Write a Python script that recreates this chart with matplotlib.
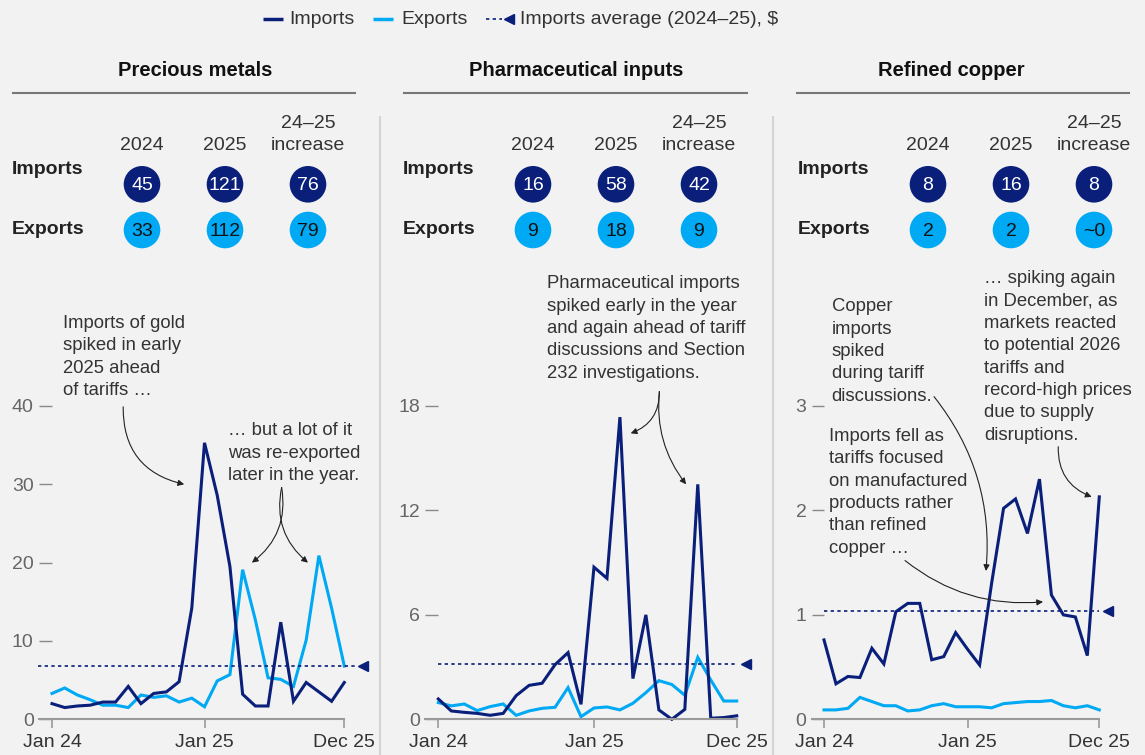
import matplotlib
matplotlib.use("Agg")
import matplotlib.pyplot as plt
import numpy as np
from matplotlib.patches import Circle

plt.rcParams["font.family"] = ["Liberation Sans", "DejaVu Sans"]

W, H = 1145, 755
BG = "#f2f2f2"
DARK = "#0a1f7a"
LIGHT = "#00a9f4"
TEXT = "#333333"
GRAY = "#777777"

# ---- data -----------------------------------------------------------------
months = np.arange(24)
month_ticks = [0, 12, 23]
month_labels = ["Jan 24", "Jan 25", "Dec 25"]

titles = ["Precious metals", "Pharmaceutical inputs", "Refined copper"]
header_cols = ["2024", "2025", "24–25\nincrease"]
imports_totals = [["45", "121", "76"], ["16", "58", "42"], ["8", "16", "8"]]
exports_totals = [["33", "112", "79"], ["9", "18", "9"], ["2", "2", "~0"]]

metals_imports = [2.0, 1.5, 1.7, 1.8, 2.2, 2.2, 4.2, 2.0, 3.3, 3.5, 4.8, 14.2,
                  35.3, 28.6, 19.5, 3.2, 1.7, 1.7, 12.4, 2.3, 4.7, 3.5, 2.3, 4.7]
metals_exports = [3.3, 4.0, 3.1, 2.5, 1.8, 1.8, 1.5, 3.1, 2.8, 3.0, 2.2, 2.7,
                  1.6, 4.9, 5.7, 19.1, 12.7, 5.3, 5.1, 4.2, 10.1, 20.9, 14.2, 6.8]
pharma_imports = [1.17, 0.48, 0.40, 0.34, 0.23, 0.34, 1.36, 1.95, 2.07, 3.14, 3.83, 0.86,
                  8.74, 8.1, 17.36, 2.34, 6.0, 0.54, 0.0, 0.57, 13.5, 0.06, 0.1, 0.2]
pharma_exports = [0.96, 0.77, 0.88, 0.5, 0.73, 0.88, 0.23, 0.48, 0.63, 0.69, 1.82, 0.15,
                  0.65, 0.71, 0.54, 0.92, 1.53, 2.22, 2.0, 1.38, 3.56, 2.26, 1.05, 1.05]
copper_imports = [0.76, 0.34, 0.41, 0.40, 0.68, 0.53, 1.03, 1.11, 1.11, 0.57, 0.60, 0.83,
                  0.67, 0.52, 1.3, 2.02, 2.11, 1.78, 2.30, 1.19, 1.0, 0.98, 0.61, 2.13]
copper_exports = [0.09, 0.09, 0.105, 0.21, 0.17, 0.13, 0.13, 0.08, 0.09, 0.13, 0.15, 0.12,
                  0.12, 0.12, 0.11, 0.15, 0.16, 0.17, 0.17, 0.18, 0.13, 0.11, 0.13, 0.09]
imports_avg = [6.8, 3.2, 1.04]
y_ticks = [[0, 10, 20, 30, 40], [0, 6, 12, 18], [0, 1, 2, 3]]

series = [(metals_imports, metals_exports),
          (pharma_imports, pharma_exports),
          (copper_imports, copper_exports)]

# ---- annotations (text anchored top-left, in data coords of each panel) ---
notes = [
    [dict(text="Imports of gold\nspiked in early\n2025 ahead\nof tariffs …", xy=(0.87, 51.6)),
     dict(text="… but a lot of it\nwas re-exported\nlater in the year.", xy=(13.85, 37.9))],
    [dict(text="Pharmaceutical imports\nspiked early in the year\nand again ahead of tariff\n"
               "discussions and Section\n232 investigations.", xy=(8.4, 25.5))],
    [dict(text="Copper\nimports\nspiked\nduring tariff\ndiscussions.", xy=(0.64, 4.03)),
     dict(text="Imports fell as\ntariffs focused\non manufactured\nproducts rather\n"
               "than refined\ncopper …", xy=(0.45, 2.79)),
     dict(text="… spiking again\nin December, as\nmarkets reacted\nto potential 2026\n"
               "tariffs and\nrecord-high prices\ndue to supply\ndisruptions.", xy=(13.37, 4.30))],
]
arrows = [
    [((5.6, 39.9), (10.4, 30.0), 0.4),
     ((18.07, 29.6), (15.73, 20.0), -0.3),
     ((18.07, 29.6), (20.14, 20.0), 0.3)],
    [((17.04, 18.83), (14.83, 16.43), -0.35),
     ((17.04, 18.83), (19.1, 13.5), 0.2)],
    [((9.19, 3.09), (13.53, 1.42), -0.2),
     ((6.77, 1.52), (18.3, 1.125), 0.2),
     ((19.57, 2.61), (22.36, 2.13), 0.35)],
]

# ---- layout (pixels) -------------------------------------------------------
jan24_px = [52.0, 438.3, 824.0]
dec25_px = [344.3, 736.7, 1099.3]
panel_left = [12, 403, 798]
panel_center = [195, 576, 951]
underline = [(13, 355), (404, 747), (797, 1129)]
avg_span = [(-1.07, 24.1, 24.5), (0, 23, 23.7), (0, 23, 23.7)]
col_dx = [130, 213, 296]
bottom_px, top_px = 719.3, 406.0

fig = plt.figure(figsize=(W / 100, H / 100), dpi=100)
fig.patch.set_facecolor(BG)

canvas = fig.add_axes([0, 0, 1, 1])
canvas.set_xlim(0, W)
canvas.set_ylim(H, 0)
canvas.axis("off")
canvas.patch.set_alpha(0)

# legend
canvas.plot([263, 283], [19, 19], color=DARK, lw=2.5, solid_capstyle="butt")
canvas.text(289, 19, "Imports", fontsize=14, color=TEXT, va="center")
canvas.plot([373, 393], [19, 19], color=LIGHT, lw=2.5, solid_capstyle="butt")
canvas.text(401, 19, "Exports", fontsize=14, color=TEXT, va="center")
canvas.plot([486, 502], [19, 19], color=DARK, lw=1.2, ls=(0, (2, 2)))
canvas.plot([509], [19], marker="<", ms=7, color=DARK)
canvas.text(520, 19, "Imports average (2024–25), $", fontsize=14, color=TEXT, va="center")

# separators
for x in [380, 772.5]:
    canvas.plot([x, x], [117, H], color="#d4d4d4", lw=1.5)

for p in range(3):
    # title and underline
    canvas.text(panel_center[p], 71, titles[p], fontsize=14.5, fontweight="bold",
                color="#111111", ha="center", va="center")
    canvas.plot(underline[p], [93, 93], color=GRAY, lw=1.5)

    # header table
    x0 = panel_left[p]
    canvas.text(x0, 170, "Imports", fontsize=14, fontweight="bold", color="#222222", va="center")
    canvas.text(x0, 230, "Exports", fontsize=14, fontweight="bold", color="#222222", va="center")
    for c in range(3):
        cx = x0 + col_dx[c]
        lines = header_cols[c].split("\n")
        for k, line in enumerate(reversed(lines)):
            canvas.text(cx, 146 - 23 * k, line, fontsize=14, color=TEXT, ha="center", va="center")
        canvas.add_patch(Circle((cx, 184.3), 18.3, color=DARK, lw=0))
        canvas.text(cx, 185, imports_totals[p][c], fontsize=14, color="white",
                    ha="center", va="center")
        canvas.add_patch(Circle((cx, 230), 18.3, color=LIGHT, lw=0))
        canvas.text(cx, 231, exports_totals[p][c], fontsize=14, color="#111111",
                    ha="center", va="center")

    # chart axes
    step = (dec25_px[p] - jan24_px[p]) / 23
    left = jan24_px[p] - step
    ax = fig.add_axes([left / W, 1 - bottom_px / H, (dec25_px[p] - left) / W,
                       (bottom_px - top_px) / H])
    ax.patch.set_alpha(0)
    imp, exp = series[p]
    ax.plot(months, exp, color=LIGHT, lw=2.2, solid_joinstyle="miter", clip_on=False)
    ax.plot(months, imp, color=DARK, lw=2.2, solid_joinstyle="miter", clip_on=False)

    x_a, x_b, x_tri = avg_span[p]
    ax.plot([x_a, x_b], [imports_avg[p]] * 2, color=DARK, lw=1.2, ls=(0, (2, 2)), clip_on=False)
    ax.plot([x_tri], [imports_avg[p]], marker="<", ms=7, color=DARK, clip_on=False)

    ax.set_xlim(-1, 23)
    ax.set_ylim(0, y_ticks[p][-1])
    ax.set_xticks(month_ticks)
    ax.set_xticklabels(month_labels)
    ax.set_yticks(y_ticks[p])
    ax.set_yticklabels([str(v) for v in y_ticks[p]])
    for s in ["top", "right", "left"]:
        ax.spines[s].set_visible(False)
    ax.spines["bottom"].set_color("#9a9a9a")
    ax.spines["bottom"].set_linewidth(1.5)
    ax.tick_params(axis="x", direction="out", length=6.5, width=1.2, color="#9a9a9a",
                   labelsize=14, labelcolor=TEXT, pad=4)
    ax.tick_params(axis="y", direction="in", length=step * 0.72, width=1.0, color="#8a8a8a",
                   labelsize=14, labelcolor="#666666", pad=4)

    for n in notes[p]:
        ax.annotate(n["text"], xy=n["xy"], ha="left", va="top", fontsize=13.3, color=TEXT,
                    linespacing=1.41, annotation_clip=False)
    for start, end, rad in arrows[p]:
        ax.annotate("", xy=end, xytext=start, annotation_clip=False,
                    arrowprops=dict(arrowstyle="-|>", connectionstyle=f"arc3,rad={rad}",
                                    color="#222222", lw=0.8, mutation_scale=9,
                                    shrinkA=0, shrinkB=0))

fig.savefig("out.png", dpi=100, facecolor=BG)
